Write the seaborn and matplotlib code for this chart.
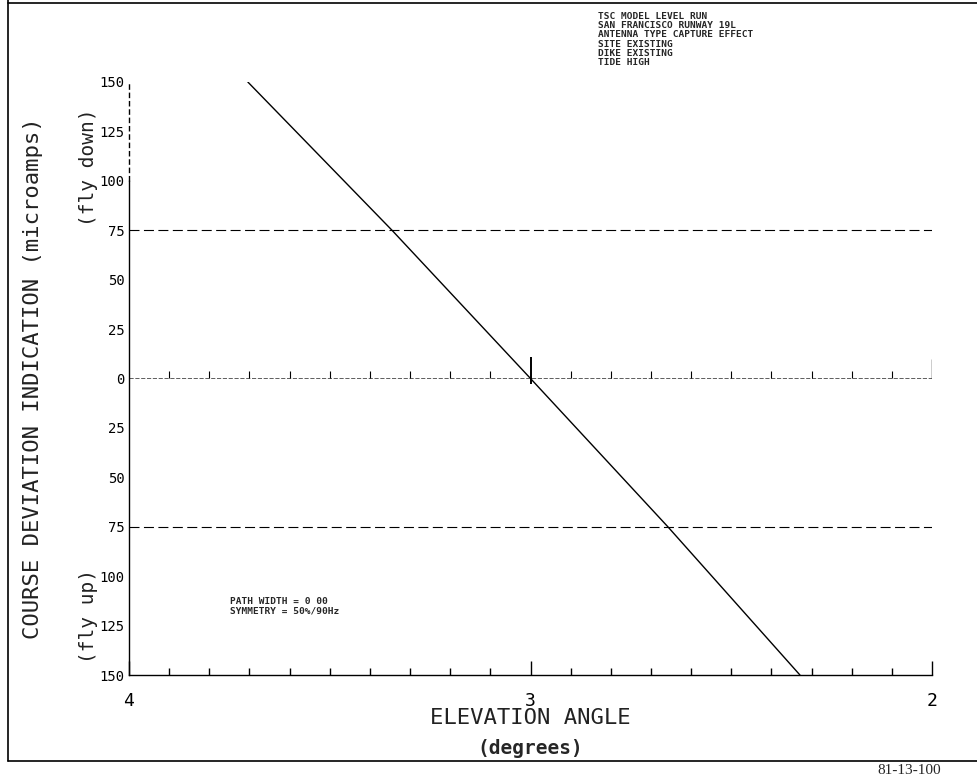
import numpy as np
import pandas as pd
import matplotlib
matplotlib.use("Agg")
import matplotlib.pyplot as plt
from matplotlib.lines import Line2D
from matplotlib.ticker import FixedLocator, MultipleLocator
import seaborn as sns

# ---- data ----
elevation_deg = [3.704, 3.345, 3.000, 2.658, 2.329]
cdi_microamps = [150, 75, 0, -75, -150]
ytick_values = [150, 125, 100, 75, 50, 25, 0, -25, -50, -75, -100, -125, -150]
ytick_labels = ["150", "125", "100", "75", "50", "25", "0", "25", "50", "75", "100", "125", "150"]
xtick_values = [4, 3, 2]
xtick_labels = ["4", "3", "2"]
limit_lines = [75, -75]
header_lines = ["TSC MODEL LEVEL RUN", "SAN FRANCISCO RUNWAY 19L",
                "ANTENNA TYPE CAPTURE EFFECT", "SITE EXISTING",
                "DIKE EXISTING", "TIDE HIGH"]
note_lines = ["PATH WIDTH = 0 00", "SYMMETRY = 50%/90Hz"]

df = pd.DataFrame({"elev": elevation_deg, "cdi": cdi_microamps})

sns.set_theme(style="white")
plt.rcParams["font.family"] = ["DejaVu Sans Mono", "DejaVu Sans"]

fig = plt.figure(figsize=(9.77, 7.80), dpi=100)
ax = fig.add_axes([0.132, 0.1346, 0.822, 0.7603])

xmin, xmax = 4, 2
ymin, ymax = -150, 150
ax.set_xlim(xmin, xmax)
ax.set_ylim(ymin, ymax)

sns.lineplot(data=df, x="elev", y="cdi", sort=False, color="black",
             linewidth=1.0, ax=ax, estimator=None)

for v in limit_lines:
    ax.axhline(v, color="black", linewidth=0.8, dashes=(9, 4))

# zero reference line with tick marks
ax.axhline(0, color="#444444", linewidth=0.6, dashes=(5, 2))
minor = np.round(np.arange(2.1, 4.0, 0.1), 1)
ax.vlines([m for m in minor if abs(m - 3) > 1e-6], 0, 4, color="black", linewidth=0.8)
ax.vlines([3], -3, 11, color="black", linewidth=1.4)
ax.vlines([xmax], 0, 10, color="black", linewidth=1.0)

# spines
for s in ["top", "right"]:
    ax.spines[s].set_visible(False)
for s in ["left", "bottom"]:
    ax.spines[s].set_color("black")
    ax.spines[s].set_linewidth(1.0)
ax.spines["left"].set_bounds(ymin, 100)
ax.plot([xmin, xmin], [100, ymax], color="black", linewidth=1.0, dashes=(4, 2),
        clip_on=False)

ax.yaxis.set_major_locator(FixedLocator(ytick_values))
ax.set_yticklabels(ytick_labels, fontsize=10, color="#222222")
ax.xaxis.set_major_locator(FixedLocator(xtick_values))
ax.set_xticklabels(xtick_labels, fontsize=13)
ax.xaxis.set_minor_locator(MultipleLocator(0.1))
ax.tick_params(axis="y", direction="in", length=7, width=0.9, pad=3, colors="black")
ax.tick_params(axis="x", which="major", direction="in", length=10, width=1.0,
               pad=12, colors="black", bottom=True)
ax.tick_params(axis="x", which="minor", direction="in", length=5, width=1.0,
               colors="black", bottom=True)
ax.grid(False)

ax.set_xlabel("")
ax.set_ylabel("")

# axis titles
fig.text(0.034, 0.515, "COURSE DEVIATION INDICATION (microamps)", rotation=90,
         ha="center", va="center", fontsize=16, color="#222222")
fig.text(0.091, 0.785, "(fly down)", rotation=90, ha="center", va="center",
         fontsize=14, color="#222222")
fig.text(0.091, 0.21, "(fly up)", rotation=90, ha="center", va="center",
         fontsize=14, color="#222222")
fig.text(0.543, 0.079, "ELEVATION ANGLE", ha="center", va="center", fontsize=16,
         color="#222222")
fig.text(0.543, 0.041, "(degrees)", ha="center", va="center", fontsize=14,
         fontweight="bold")

# annotations
fig.text(0.612, 0.985, "\n".join(header_lines), ha="left", va="top",
         fontsize=6.8, fontweight="bold", linespacing=1.05)
fig.text(0.235, 0.235, "\n".join(note_lines), ha="left", va="top",
         fontsize=6.8, fontweight="bold", linespacing=1.05)

# page frame
fig.add_artist(Line2D([0.008, 0.008], [0.025, 1.0], transform=fig.transFigure,
                      color="black", linewidth=1.2))
fig.add_artist(Line2D([0.008, 1.0], [0.996, 0.996], transform=fig.transFigure,
                      color="black", linewidth=1.2))
fig.add_artist(Line2D([0.008, 1.0], [0.025, 0.025], transform=fig.transFigure,
                      color="black", linewidth=1.2))
fig.text(0.898, 0.004, "81-13-100", ha="left", va="bottom", fontsize=11,
         family="Liberation Serif")

fig.savefig("out.png", dpi=100, facecolor="white")
